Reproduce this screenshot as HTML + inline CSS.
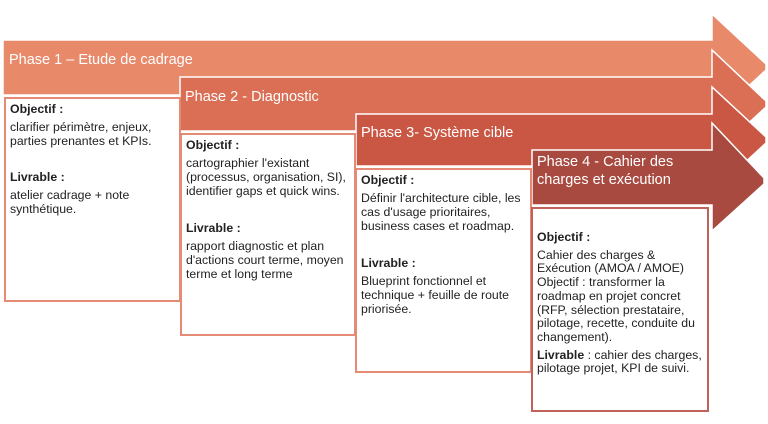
<!DOCTYPE html>
<html><head><meta charset="utf-8"><style>
body{margin:0;width:768px;height:424px;background:#fff;overflow:hidden;position:relative;font-family:"Liberation Sans",Arial,sans-serif}
svg{position:absolute;left:0;top:0}
.t{position:absolute;color:#fff;font-size:14.5px;line-height:18px}
.b{position:absolute;background:#fff;border:2px solid #E58A74;box-sizing:border-box;padding:3px 4px;font-size:12.3px;line-height:14px;color:#222}
.b b{display:block;margin-bottom:4px}
.b p{margin:0}
</style></head><body>
<svg width="768" height="424">
<g stroke="#fff" stroke-width="1.5">
<polygon points="3,40 712,40 712,14 766,64 766,70 712,120 712,95 3,95" fill="#E8896A"/>
<polygon points="180,77 712,77 712,50 766,101 766,107 712,157 712,131 180,131" fill="#DB6F55"/>
<polygon points="356,114 712,114 712,87 766,137 766,143 712,193 712,166 356,166" fill="#C95744"/>
<polygon points="532,150 712,150 712,123 764,178 764,184 712,231 712,205 532,205" fill="#A84A40"/>
</g>
</svg>
<div class="t" style="left:9px;top:51px">Phase 1 – Etude de cadrage</div>
<div class="t" style="left:185px;top:88px">Phase 2 - Diagnostic</div>
<div class="t" style="left:361px;top:124px">Phase 3- Système cible</div>
<div class="t" style="left:537px;top:153px">Phase 4 - Cahier des<br>charges et exécution</div>

<div class="b" style="left:4px;top:97px;width:177px;height:205px">
<b>Objectif :</b><p>clarifier périmètre, enjeux, parties prenantes et KPIs.</p><br>
<b style="margin-top:8px">Livrable :</b><p>atelier cadrage + note synthétique.</p></div>
<div class="b" style="left:180px;top:133px;width:176px;height:203px">
<b>Objectif :</b><p>cartographier l'existant (processus, organisation, SI), identifier gaps et quick wins.</p><br>
<b style="margin-top:9px">Livrable :</b><p>rapport diagnostic et plan d'actions court terme, moyen terme et long terme</p></div>
<div class="b" style="left:355px;top:168px;width:177px;height:205px">
<b>Objectif :</b><p>Définir l'architecture cible, les cas d'usage prioritaires, business cases et roadmap.</p><br>
<b style="margin-top:9px">Livrable :</b><p>Blueprint fonctionnel et technique + feuille de route priorisée.</p></div>
<div class="b" style="left:531px;top:207px;width:178px;height:205px;border-color:#C0625A;padding-top:22px;line-height:13.7px">
<b>Objectif :</b><p>Cahier des charges &amp; Exécution (AMOA / AMOE) Objectif : transformer la roadmap en projet concret (RFP, sélection prestataire, pilotage, recette, conduite du changement).</p>
<p style="margin-top:4px"><span style="font-weight:bold">Livrable</span> : cahier des charges, pilotage projet, KPI de suivi.</p></div>
</body></html>
